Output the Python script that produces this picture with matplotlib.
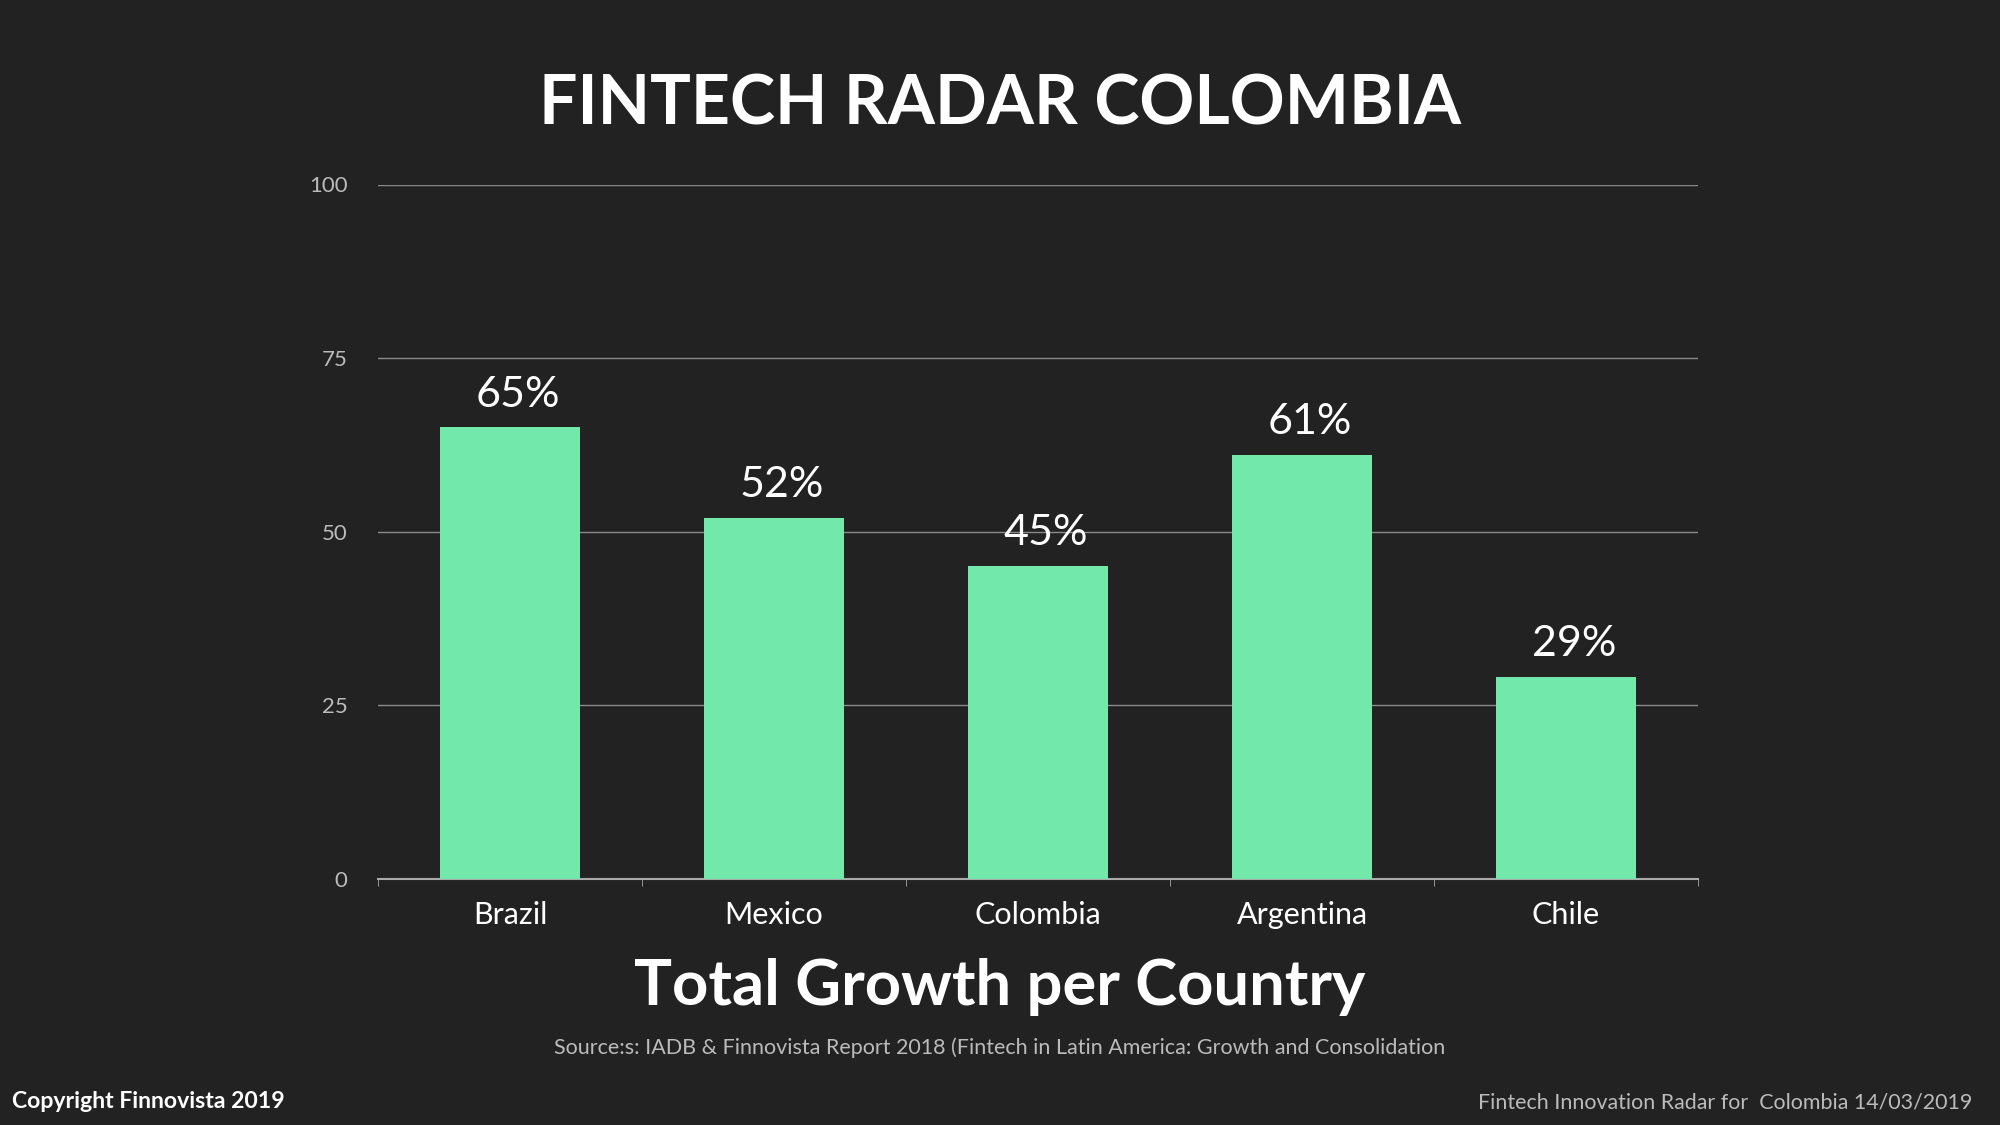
import numpy as np
from matplotlib import pyplot

countries = ["Brazil", "Mexico", "Colombia", "Argentina", "Chile"]
growth = [65, 52, 45, 61, 29]
yticks = [0, 25, 50, 75, 100]

BG = "#222222"
BAR = "#72E8AA"
pyplot.rcParams["font.family"] = "Lato"


def main():
    fig = pyplot.figure(figsize=(20, 11.25), dpi=100, facecolor=BG)
    ax = fig.add_axes([0.189, 0.219, 0.66, 0.617], facecolor=BG)
    x = np.arange(len(countries))
    bars = ax.bar(x, growth, width=0.53, color=BAR, zorder=3)
    for b, v in zip(bars, growth):
        ax.text(b.get_x() + b.get_width() / 2 + 0.03, v + 2, f"{v}%", ha="center",
                va="bottom", color="white", fontsize=31)

    ax.set_xlim(-0.5, len(countries) - 0.5)
    ax.set_ylim(0, 100)
    ax.set_yticks(yticks)
    ax.yaxis.grid(True, color="#8a8a8a", linewidth=1)
    ax.tick_params(axis="y", length=0, pad=22, labelsize=16, labelcolor="#bbbbbb")
    ax.set_xticks(x, countries)
    ax.tick_params(axis="x", length=0, pad=16, labelsize=22, labelcolor="white")
    ax.set_xticks(np.arange(-0.5, len(countries)), minor=True)
    ax.tick_params(axis="x", which="minor", length=5, color="#aaaaaa")
    for s in ("top", "right", "left"):
        ax.spines[s].set_visible(False)
    ax.spines["bottom"].set_color("#aaaaaa")
    ax.spines["bottom"].set_linewidth(1.5)

    fig.text(0.5, 0.907, "FINTECH RADAR COLOMBIA", ha="center", va="center",
             color="white", fontsize=49, fontweight="bold")
    fig.text(0.5, 0.123, "Total Growth per Country", ha="center", va="center",
             color="white", fontsize=45.5, fontweight="bold")
    fig.text(0.5, 0.069, "Source:s: IADB & Finnovista Report 2018 (Fintech in Latin America: "
             "Growth and Consolidation", ha="center", va="center",
             color="#bbbbbb", fontsize=15.5)
    fig.text(0.006, 0.021, "Copyright Finnovista 2019", ha="left", va="center",
             color="white", fontsize=16.6, fontweight="bold")
    fig.text(0.986, 0.020, "Fintech Innovation Radar for  Colombia 14/03/2019",
             ha="right", va="center", color="#bbbbbb", fontsize=15.4)

    fig.savefig("out.png", dpi=100, facecolor=BG)
    pyplot.close(fig)


if __name__ == "__main__":
    main()
